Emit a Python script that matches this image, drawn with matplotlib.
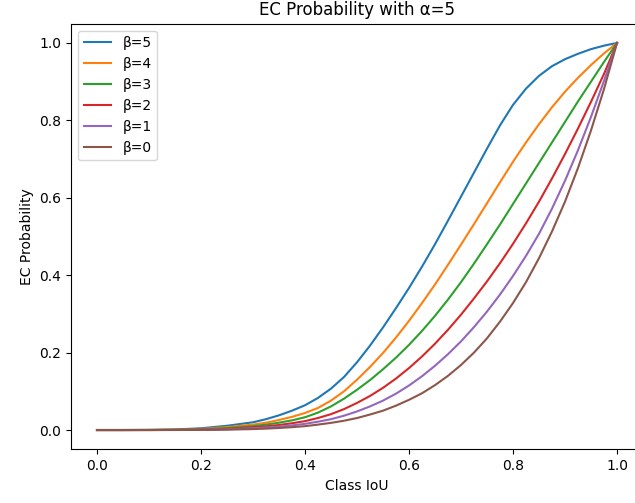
import matplotlib
matplotlib.use("Agg")
import matplotlib.pyplot as plt

# Class IoU sample points and EC probability per beta
iou = [0.0, 0.05, 0.1, 0.15, 0.2, 0.25,
       0.3, 0.325, 0.35, 0.375, 0.4, 0.425, 0.45, 0.475, 0.5,
       0.525, 0.55, 0.575, 0.6, 0.625, 0.65, 0.675, 0.7,
       0.725, 0.75, 0.775, 0.8, 0.825, 0.85, 0.875, 0.9,
       0.925, 0.95, 0.975, 1.0]

p_beta5 = [0, 0, 0.0003, 0.0014, 0.0045, 0.011,
           0.02, 0.028, 0.038, 0.05, 0.064, 0.083, 0.107, 0.137, 0.175,
           0.218, 0.265, 0.315, 0.367, 0.422, 0.48, 0.541, 0.603,
           0.665, 0.727, 0.787, 0.84, 0.882, 0.915, 0.94, 0.958,
           0.972, 0.984, 0.993, 1.0]
p_beta4 = [0, 0, 0.0002, 0.0008, 0.003, 0.0075,
           0.014, 0.019, 0.026, 0.034, 0.044, 0.057, 0.076, 0.1, 0.13,
           0.163, 0.199, 0.239, 0.282, 0.328, 0.376, 0.427, 0.479,
           0.532, 0.586, 0.64, 0.693, 0.743, 0.79, 0.834, 0.874,
           0.91, 0.943, 0.973, 1.0]
p_beta3 = [0, 0, 0.0001, 0.0005, 0.002, 0.005,
           0.01, 0.014, 0.019, 0.025, 0.033, 0.045, 0.061, 0.081, 0.104,
           0.129, 0.157, 0.187, 0.22, 0.256, 0.295, 0.337, 0.382,
           0.43, 0.48, 0.531, 0.584, 0.637, 0.69, 0.743, 0.796,
           0.849, 0.9, 0.951, 1.0]
p_beta2 = [0, 0, 0, 0.0003, 0.0012, 0.003,
           0.007, 0.0095, 0.013, 0.0175, 0.023, 0.031, 0.041, 0.054, 0.07,
           0.088, 0.109, 0.133, 0.16, 0.19, 0.223, 0.259, 0.298,
           0.34, 0.384, 0.431, 0.481, 0.534, 0.59, 0.65, 0.713,
           0.779, 0.848, 0.92, 1.0]
p_beta1 = [0, 0, 0, 0.0001, 0.0006, 0.002,
           0.0045, 0.0063, 0.0087, 0.012, 0.016, 0.0215, 0.028, 0.037, 0.048,
           0.061, 0.076, 0.094, 0.115, 0.139, 0.166, 0.196, 0.229,
           0.266, 0.306, 0.35, 0.398, 0.45, 0.507, 0.572, 0.644,
           0.723, 0.809, 0.902, 1.0]
p_beta0 = [0, 0, 0, 0.0001, 0.0003, 0.001,
           0.0024, 0.0036, 0.0053, 0.0074, 0.010, 0.014, 0.0185, 0.024, 0.031,
           0.04, 0.05, 0.063, 0.078, 0.095, 0.116, 0.14, 0.168,
           0.2, 0.237, 0.28, 0.328, 0.382, 0.444, 0.513, 0.59,
           0.677, 0.774, 0.881, 1.0]

series = [("β=5", p_beta5), ("β=4", p_beta4), ("β=3", p_beta3),
          ("β=2", p_beta2), ("β=1", p_beta1), ("β=0", p_beta0)]

fig = plt.figure(figsize=(6.35, 5.03), dpi=100)
# axes run past the right edge, like the cropped original
ax = fig.add_axes([71 / 635, 0.1066, 572 / 635, 0.8465])
for label, vals in series:
    ax.plot(iou, vals, label=label)
ax.set_title("EC Probability with α=5")
ax.set_xlabel("Class IoU")
ax.set_ylabel("EC Probability")
ax.legend(loc="upper left")
fig.savefig("out.png", dpi=100)
